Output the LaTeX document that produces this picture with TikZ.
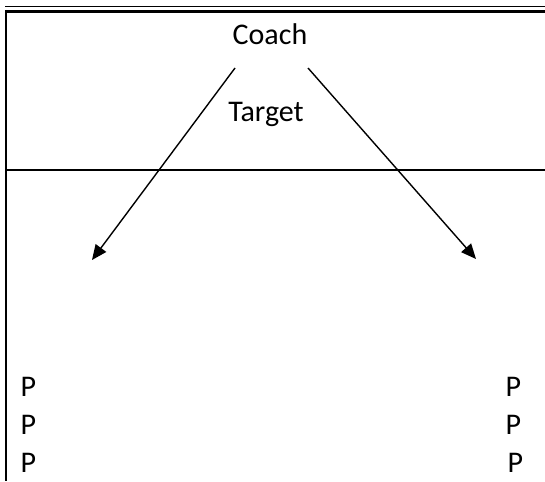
\documentclass[tikz,border=0pt]{standalone}
\usepackage{fontspec}
\setmainfont{Carlito}
\usetikzlibrary{arrows.meta}

\begin{document}
\begin{tikzpicture}[x=1pt,y=-1pt,font=\fontsize{30}{36}\selectfont,
  lbl/.style={inner sep=0pt, anchor=base},
  pl/.style={inner sep=0pt, anchor=base west},
  pass/.style={-{Triangle[length=15pt,width=13pt]}, line width=1.4pt}]
\useasboundingbox (0,0) rectangle (545,481);

\draw [line width=1.3pt] (5,6.5) -- (545,6.5);
\draw [line width=3pt] (5,11.4) -- (545,11.4);
\draw [line width=2.2pt] (6,10) -- (6,481);
\draw [line width=1.8pt] (6,170) -- (545,170);

\node[lbl] (coach) at (270,45) {Coach};
\node[lbl] (target) at (266,122) {Target};

\coordinate (coachL) at (235,68);
\coordinate (coachR) at (308,68);
\coordinate (spotL) at (92,260);
\coordinate (spotR) at (476,259);

\draw [pass] (coachL) -- (spotL);
\draw [pass] (coachR) -- (spotR);

\node[pl] (pL1) at (20.5,396) {P};
\node[pl] (pL2) at (20.5,434) {P};
\node[pl] (pL3) at (20.5,472) {P};

\node[pl] (pR1) at (505.5,396) {P};
\node[pl] (pR2) at (505.5,434) {P};
\node[pl] (pR3) at (507.5,472) {P};

\end{tikzpicture}
\end{document}
